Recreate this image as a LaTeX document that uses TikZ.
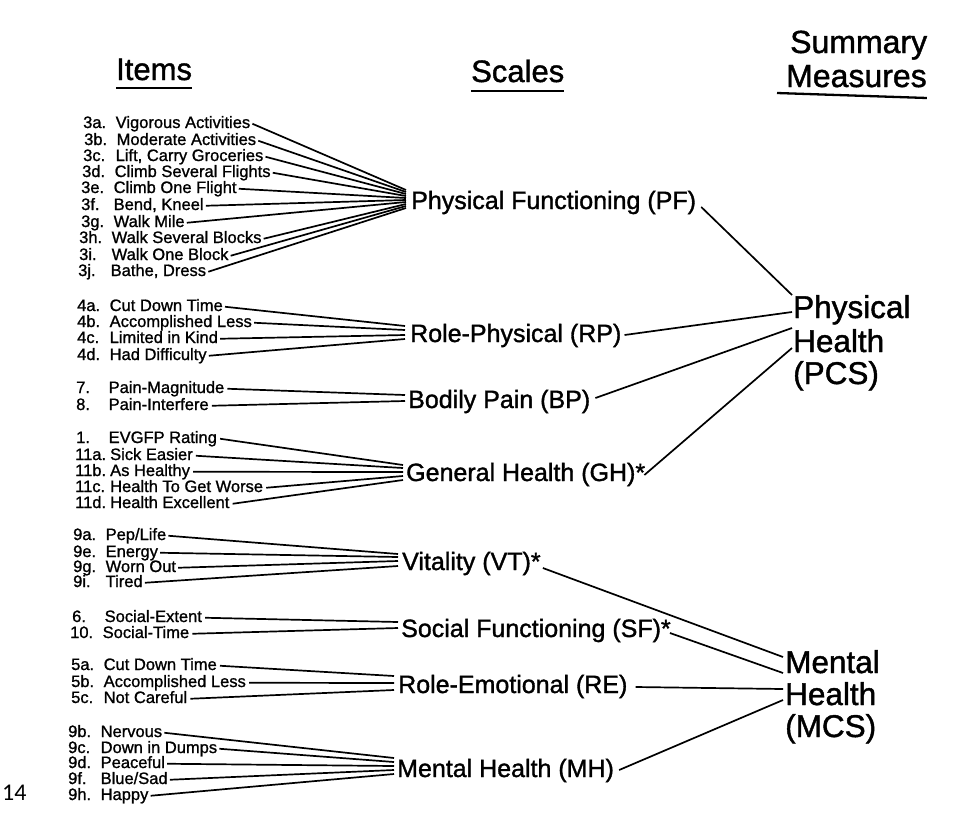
\documentclass[tikz,border=0pt]{standalone}
\usepackage{fontspec}
\setmainfont{Liberation Sans}
\newfontfamily\scanfont{Liberation Sans}[FakeBold=1.3]
\newfontfamily\scanitemfont{Liberation Sans}[FakeBold=1.1]
\newfontfamily\pagenumfont{Carlito}
\newcommand\itm[3][32.5pt]{\makebox[#1][l]{#2}#3}
\begin{document}
\begin{tikzpicture}[x=1pt,y=-1pt,
  hdr/.style={anchor=base west,inner sep=0pt,font=\scanfont\fontsize{31}{33}\selectfont},
  sumhdr/.style={anchor=base west,inner sep=0pt,font=\scanfont\fontsize{32}{34}\selectfont},
  itembox/.style={anchor=base west,inner sep=0pt,text height=12pt,text depth=3.5pt,font=\scanitemfont\fontsize{16.5}{18}\selectfont},
  scl/.style={anchor=base west,inner sep=0pt,font=\scanfont\fontsize{25}{28}\selectfont},
  summ/.style={anchor=base west,inner sep=0pt,font=\scanfont\fontsize{31.5}{33}\selectfont},
  wire/.style={line width=1.7pt},
  link/.style={line width=1.7pt},
  uline/.style={line width=2.3pt}]
\useasboundingbox (0,0) rectangle (960,830);

% headers
\node[hdr] (hitems) at (116,80) {Items};
\node[hdr] (hscales) at (471,82) {Scales};
\node[sumhdr] (hsum) at (790,53) {Summary};
\node[sumhdr] (hmeas) at (786,87) {Measures};
\draw[uline] ([yshift=-8pt]hitems.base west) -- ([yshift=-8pt]hitems.base east);
\draw[uline] ([yshift=-9pt]hscales.base west) -- ([yshift=-9pt]hscales.base east);
\draw[uline] ([shift={(-9pt,-6pt)}]hmeas.base west) -- ([shift={(0pt,-11pt)}]hmeas.base east);

% scales
\node[scl] (pf) at (411,209) {Physical Functioning (PF)};
\node[scl] (rp) at (410,342) {Role-Physical (RP)};
\node[scl] (bp) at (408,408) {Bodily Pain (BP)};
\node[scl] (gh) at (406,481) {General Health (GH)*};
\node[scl] (vt) at (402,570) {Vitality (VT)*};
\node[scl] (sf) at (401,637) {Social Functioning (SF)*};
\node[scl] (re) at (398,693) {Role-Emotional (RE)};
\node[scl] (mh) at (397,777) {Mental Health (MH)};

% summary measures
\node[summ] (ph1) at (793,318) {Physical};
\node[summ] (ph2) at (793,352) {Health};
\node[summ] (ph3) at (793,384) {(PCS)};
\node[summ] (mn1) at (785,673) {Mental};
\node[summ] (mn2) at (785,705) {Health};
\node[summ] (mn3) at (785,737) {(MCS)};

% items: PF
\node[itembox] (i3a) at (83,128) {\itm{3a.}{Vigorous Activities}};
\node[itembox] (i3b) at (84,145) {\itm{3b.}{Moderate Activities}};
\node[itembox] (i3c) at (83,161) {\itm{3c.}{Lift, Carry Groceries}};
\node[itembox] (i3d) at (82,177) {\itm{3d.}{Climb Several Flights}};
\node[itembox] (i3e) at (81,193) {\itm{3e.}{Climb One Flight}};
\node[itembox] (i3f) at (81,210) {\itm{3f.}{Bend, Kneel}};
\node[itembox] (i3g) at (81,227) {\itm{3g.}{Walk Mile}};
\node[itembox] (i3h) at (79,243) {\itm{3h.}{Walk Several Blocks}};
\node[itembox] (i3i) at (79,260) {\itm{3i.}{Walk One Block}};
\node[itembox] (i3j) at (78,276) {\itm{3j.}{Bathe, Dress}};
% RP
\node[itembox] (i4a) at (77,311) {\itm{4a.}{Cut Down Time}};
\node[itembox] (i4b) at (77,327) {\itm{4b.}{Accomplished Less}};
\node[itembox] (i4c) at (77,343) {\itm{4c.}{Limited in Kind}};
\node[itembox] (i4d) at (77,360) {\itm{4d.}{Had Difficulty}};
% BP
\node[itembox] (i7) at (76,393) {\itm{7.}{Pain-Magnitude}};
\node[itembox] (i8) at (76,410) {\itm{8.}{Pain-Interfere}};
% GH
\node[itembox] (i1) at (76,443) {\itm{1.}{EVGFP Rating}};
\node[itembox] (i11a) at (75,460) {\itm[35pt]{11a.}{Sick Easier}};
\node[itembox] (i11b) at (75,476) {\itm[35pt]{11b.}{As Healthy}};
\node[itembox] (i11c) at (75,492) {\itm[35pt]{11c.}{Health To Get Worse}};
\node[itembox] (i11d) at (75,508) {\itm[35pt]{11d.}{Health Excellent}};
% VT
\node[itembox] (i9a) at (73,540) {\itm{9a.}{Pep/Life}};
\node[itembox] (i9e) at (73,557) {\itm{9e.}{Energy}};
\node[itembox] (i9g) at (73,572) {\itm{9g.}{Worn Out}};
\node[itembox] (i9i) at (73,587) {\itm{9i.}{Tired}};
% SF
\node[itembox] (i6) at (72,622) {\itm{6.}{Social-Extent}};
\node[itembox] (i10) at (70,638) {\itm{10.}{Social-Time}};
% RE
\node[itembox] (i5a) at (71,670) {\itm{5a.}{Cut Down Time}};
\node[itembox] (i5b) at (71,687) {\itm{5b.}{Accomplished Less}};
\node[itembox] (i5c) at (71,703) {\itm{5c.}{Not Careful}};
% MH
\node[itembox] (i9b) at (68,737) {\itm{9b.}{Nervous}};
\node[itembox] (i9c) at (68,753) {\itm{9c.}{Down in Dumps}};
\node[itembox] (i9d) at (68,768) {\itm{9d.}{Peaceful}};
\node[itembox] (i9f) at (68,784) {\itm{9f.}{Blue/Sad}};
\node[itembox] (i9h) at (68,800) {\itm{9h.}{Happy}};

% page number
\node[anchor=base west,inner sep=0pt,font=\pagenumfont\fontsize{24}{26}\selectfont] (pnum) at (2,800) {14};

% item -> scale fans
\foreach \n/\d in {3a/19,3b/17,3c/15,3d/13,3e/11,3f/9,3g/7,3h/5,3i/3,3j/1}
  \draw[wire] ([xshift=2pt]i\n.east) -- ([shift={(-5pt,\d pt)}]pf.base west);
\foreach \n/\d in {4a/16,4b/12,4c/7,4d/3}
  \draw[wire] ([xshift=2pt]i\n.east) -- ([shift={(-5pt,\d pt)}]rp.base west);
\foreach \n/\d in {7/13,8/7}
  \draw[wire] ([xshift=3pt]i\n.east) -- ([shift={(-3pt,\d pt)}]bp.base west);
\foreach \n/\d in {1/16,11a/13,11b/9,11c/5,11d/1}
  \draw[wire] ([xshift=3pt]i\n.east) -- ([shift={(-3pt,\d pt)}]gh.base west);
\foreach \n/\d in {9a/16,9e/13,9g/9,9i/4}
  \draw[wire] ([xshift=2pt]i\n.east) -- ([shift={(-4pt,\d pt)}]vt.base west);
\foreach \n/\d in {6/15,10/9}
  \draw[wire] ([xshift=3pt]i\n.east) -- ([shift={(-3pt,\d pt)}]sf.base west);
\foreach \n/\d in {5a/17,5b/10,5c/3}
  \draw[wire] ([xshift=3pt]i\n.east) -- ([shift={(-4pt,\d pt)}]re.base west);
\foreach \n/\d in {9b/19,9c/15,9d/11,9f/7,9h/3}
  \draw[wire] ([xshift=2pt]i\n.east) -- ([shift={(-3pt,\d pt)}]mh.base west);

% scale -> summary
\draw[link] ([shift={(5pt,2pt)}]pf.base east) -- ([shift={(-1pt,23pt)}]ph1.base west);
\draw[link] ([shift={(3pt,7pt)}]rp.base east) -- ([shift={(-1pt,6pt)}]ph1.base west);
\draw[link] ([shift={(5pt,10pt)}]bp.base east) -- ([shift={(-1pt,24pt)}]ph2.base west);
\draw[link] ([shift={(-1pt,6pt)}]gh.base east) -- ([shift={(-1pt,4pt)}]ph2.base west);
\draw[link] ([shift={(2pt,2pt)}]vt.base east) -- ([shift={(-2pt,16pt)}]mn1.base west);
\draw[link] ([shift={(-1pt,4pt)}]sf.base east) -- ([shift={(-2pt,0pt)}]mn1.base west);
\draw[link] ([shift={(8pt,6pt)}]re.base east) -- ([shift={(-2pt,16pt)}]mn2.base west);
\draw[link] ([shift={(5pt,7pt)}]mh.base east) -- ([shift={(-2pt,5pt)}]mn2.base west);
\end{tikzpicture}
\end{document}
